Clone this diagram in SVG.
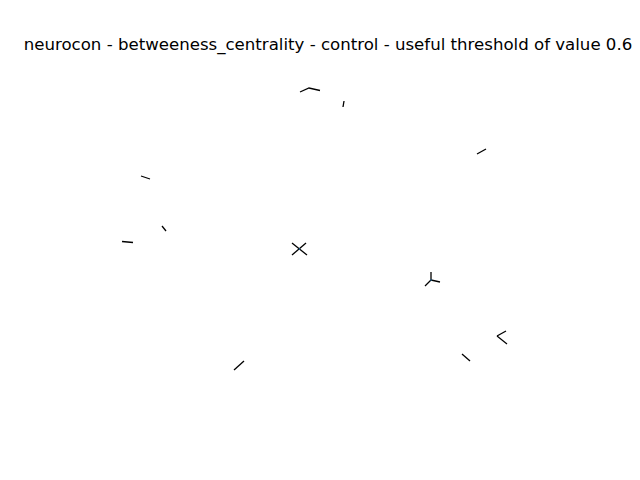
<svg xmlns="http://www.w3.org/2000/svg" width="640" height="480" viewBox="0 0 640 480">
<style>
.e{stroke:#000;stroke-width:1.3;fill:none;stroke-linecap:butt}
.n{fill:#1f78b4}
.t{font-family:"DejaVu Sans",sans-serif;font-size:16.6px;fill:#000}
</style>
<rect width="640" height="480" fill="#fff"/>
<text class="t" x="328" y="50" text-anchor="middle">neurocon - betweeness_centrality - control - useful threshold of value 0.6</text>
<g id="connectors">
<polyline class="e" points="300,92 309,88 320,90.5"/>
<line class="e" x1="344" y1="101" x2="343" y2="107"/>
<line class="e" x1="477" y1="154" x2="486" y2="149"/>
<line class="e" x1="141" y1="176" x2="150" y2="179"/>
<line class="e" x1="162" y1="226" x2="166" y2="231"/>
<line class="e" x1="122" y1="241.5" x2="133" y2="242.5"/>
<line class="e" x1="292" y1="243" x2="307" y2="255"/>
<line class="e" x1="292" y1="255" x2="306" y2="243"/>
<line class="e" x1="431" y1="272" x2="431" y2="280"/>
<line class="e" x1="431" y1="280" x2="425" y2="286"/>
<line class="e" x1="431" y1="280" x2="440" y2="282"/>
<line class="e" x1="506" y1="331" x2="497" y2="336"/>
<line class="e" x1="497" y1="336" x2="507" y2="344"/>
<line class="e" x1="462" y1="354" x2="470" y2="361"/>
<line class="e" x1="234" y1="370" x2="244" y2="361"/>
</g>
<g id="node-hub1"><circle class="n" cx="299.5" cy="249" r="0.8"/></g>
<g id="node-hub2"><circle class="n" cx="431" cy="280" r="0.8"/></g>
</svg>
